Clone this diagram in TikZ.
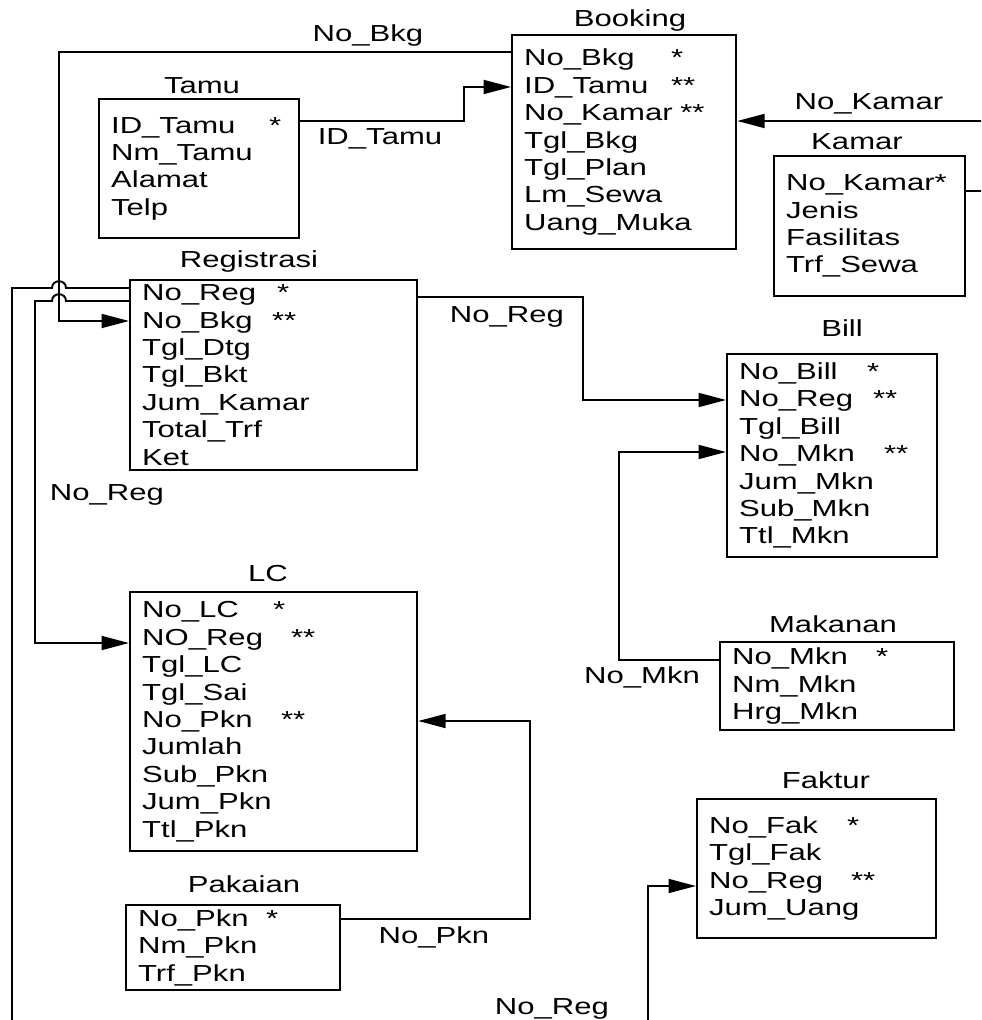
\documentclass[tikz,border=0pt]{standalone}
\usepackage{fontspec}
\setmainfont{Liberation Sans}[FakeStretch=1.34]
\usetikzlibrary{arrows.meta}

% kolom: nama field dengan lebar tetap, lalu tanda kunci
\newcommand{\kol}[2]{\makebox[#1][l]{#2}}

\begin{document}
\begin{tikzpicture}[x=0.02cm,y=-0.02cm,
		every node/.style={font=\fontsize{13.2}{15.6}\selectfont},
		tabel/.style={draw,line width=1.3pt,anchor=north west,align=left,inner xsep=0.24cm,inner ysep=0pt},
		judul/.style={anchor=base,inner sep=0pt},
		garis/.style={line width=1.1pt},
		panah/.style={garis,-{Triangle[length=0.55cm,width=0.28cm]}}]
			
			% frame
			\clip (0,0) rectangle (981,1020);
			
			% tables
			\node[tabel,text width=4.0cm,minimum height=4.28cm] (booking) at (511,34)
				{\kol{2.94cm}{No\_Bkg}*\\ \kol{2.94cm}{ID\_Tamu}**\\ No\_Kamar **\\ Tgl\_Bkg\\ Tgl\_Plan\\ Lm\_Sewa\\ Uang\_Muka};
			\node[tabel,text width=3.52cm,minimum height=2.78cm] (tamu) at (98,98)
				{\kol{3.16cm}{ID\_Tamu}*\\ Nm\_Tamu\\ Alamat\\ Telp};
			\node[tabel,text width=3.34cm,minimum height=2.8cm] (kamar) at (773,155)
				{No\_Kamar*\\ Jenis\\ Fasilitas\\ Trf\_Sewa};
			\node[tabel,text width=5.26cm,minimum height=3.8cm] (registrasi) at (129,279)
				{\kol{2.7cm}{No\_Reg}*\\ \kol{2.6cm}{No\_Bkg}**\\ Tgl\_Dtg\\ Tgl\_Bkt\\ Jum\_Kamar\\ Total\_Trf\\ Ket};
			\node[tabel,text width=3.72cm,minimum height=4.06cm] (bill) at (726,353)
				{\kol{2.56cm}{No\_Bill}*\\ \kol{2.68cm}{No\_Reg}**\\ Tgl\_Bill\\ \kol{2.9cm}{No\_Mkn}**\\ Jum\_Mkn\\ Sub\_Mkn\\ Ttl\_Mkn};
			\node[tabel,text width=5.26cm,minimum height=5.18cm] (lc) at (129,591)
				{\kol{2.62cm}{No\_LC}*\\ \kol{2.98cm}{NO\_Reg}**\\ Tgl\_LC\\ Tgl\_Sai\\ \kol{2.78cm}{No\_Pkn}**\\ Jumlah\\ Sub\_Pkn\\ Jum\_Pkn\\ Ttl\_Pkn};
			\node[tabel,text width=4.2cm,minimum height=1.76cm] (makanan) at (719,641)
				{\kol{2.88cm}{No\_Mkn}*\\ Nm\_Mkn\\ Hrg\_Mkn};
			\node[tabel,text width=3.8cm,minimum height=1.7cm] (pakaian) at (125,904)
				{\kol{2.56cm}{No\_Pkn}*\\ Nm\_Pkn\\ Trf\_Pkn};
			\node[tabel,text width=4.3cm,minimum height=2.78cm] (faktur) at (696,798)
				{\kol{2.76cm}{No\_Fak}*\\ Tgl\_Fak\\ \kol{2.84cm}{No\_Reg}**\\ Jum\_Uang};
			
			% table names
			\node[judul] (j-booking) at (630,27) {Booking};
			\node[judul] (j-tamu) at (202,94) {Tamu};
			\node[judul] (j-kamar) at (857,150) {Kamar};
			\node[judul] (j-registrasi) at (249,268) {Registrasi};
			\node[judul] (j-bill) at (842,337) {Bill};
			\node[judul] (j-makanan) at (833,632) {Makanan};
			\node[judul] (j-lc) at (268,581) {LC};
			\node[judul] (j-pakaian) at (244,892) {Pakaian};
			\node[judul] (j-faktur) at (826,788) {Faktur};
			
			% relations
			\draw[panah] (booking.west |- 0,52) -| (59,321) -- (registrasi.west |- 0,321);
			\draw[panah] (tamu.east |- 0,121) -- (464,121) |- (booking.west |- 0,87);
			\draw[panah] (kamar.east |- 0,191) -- (995,191) -- (995,121) -- (booking.east |- 0,121);
			\draw[panah] (registrasi.east |- 0,297) -| (583,400) -- (bill.west |- 0,400);
			\draw[panah] (makanan.west |- 0,660) -| (619,452) -- (bill.west |- 0,452);
			\draw[panah] (pakaian.east |- 0,919) -| (530,721) -- (lc.east |- 0,721);
			
			% lines hopping over No_Bkg
			\draw[panah] (registrasi.west |- 0,301) -- (66,301) .. controls (66,292) and (52,292) .. (52,301)
				-- (35,301) -- (35,643) -- (lc.west |- 0,643);
			\draw[panah] (registrasi.west |- 0,288) -- (66,288) .. controls (66,279) and (52,279) .. (52,288)
				-- (12,288) -- (12,1040) -- (648,1040) -- (648,886) -- (faktur.west |- 0,886);
			
			% relation labels
			\node[judul] (l-bkg) at (368,42) {No\_Bkg};
			\node[judul] (l-tamu) at (380,145) {ID\_Tamu};
			\node[judul] (l-kamar) at (869,110) {No\_Kamar};
			\node[judul] (l-reg-bill) at (507,322) {No\_Reg};
			\node[judul] (l-reg-lc) at (107,500) {No\_Reg};
			\node[judul] (l-mkn) at (642,683) {No\_Mkn};
			\node[judul] (l-pkn) at (434,943) {No\_Pkn};
			\node[judul] (l-reg-fak) at (552,1014) {No\_Reg};
			
		\end{tikzpicture}
\end{document}
